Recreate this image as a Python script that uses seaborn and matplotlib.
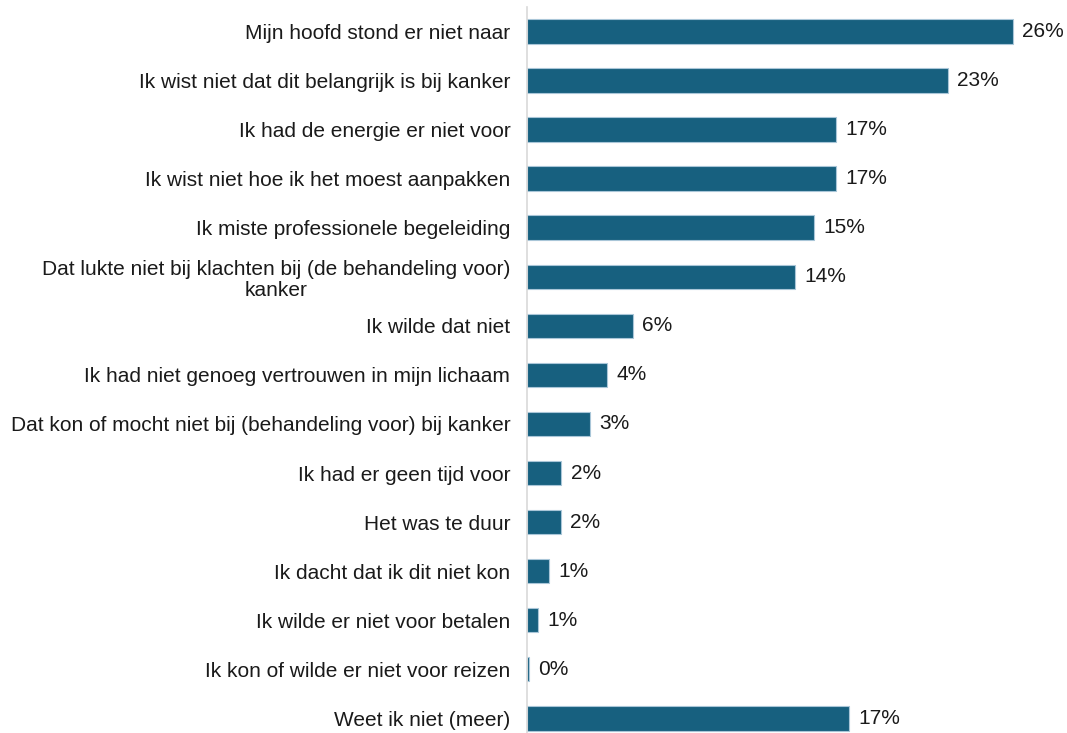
import matplotlib
matplotlib.use("Agg")
import matplotlib.pyplot as plt
import seaborn as sns
import pandas as pd

categories = [
    "Mijn hoofd stond er niet naar",
    "Ik wist niet dat dit belangrijk is bij kanker",
    "Ik had de energie er niet voor",
    "Ik wist niet hoe ik het moest aanpakken",
    "Ik miste professionele begeleiding",
    "Dat lukte niet bij klachten bij (de behandeling voor)\nkanker",
    "Ik wilde dat niet",
    "Ik had niet genoeg vertrouwen in mijn lichaam",
    "Dat kon of mocht niet bij (behandeling voor) bij kanker",
    "Ik had er geen tijd voor",
    "Het was te duur",
    "Ik dacht dat ik dit niet kon",
    "Ik wilde er niet voor betalen",
    "Ik kon of wilde er niet voor reizen",
    "Weet ik niet (meer)",
]
percentages = [26.1, 22.6, 16.6, 16.6, 15.4, 14.4, 5.7, 4.3, 3.4, 1.85, 1.8, 1.2, 0.6, 0.1, 17.3]

df = pd.DataFrame({"reden": categories, "pct": percentages})

sns.set_theme(style="white")
plt.rcParams["font.family"] = ["Liberation Sans", "DejaVu Sans"]

fig = plt.figure(figsize=(10.67, 7.33), dpi=100)
ax = fig.add_axes([527 / 1067, 0.0, 1 - 527 / 1067, 1 - 7 / 733])

sns.barplot(data=df, x="pct", y="reden", orient="h", color="#17607f",
            saturation=1, width=0.5, edgecolor="#a9c6d8", linewidth=0.8, ax=ax)

for i, v in enumerate(percentages):
    ax.text(v + 0.5, i, f"{v:.0f}%", va="center", ha="left", fontsize=15, color="#1a1a1a")

ax.set_xlim(0, 29)
ax.set_ylim(14.3, -0.5)
ax.set_xlabel("")
ax.set_ylabel("")
ax.set_xticks([])
ax.tick_params(axis="y", length=0, pad=12, labelsize=15, labelcolor="#1a1a1a")
for lbl in ax.get_yticklabels():
    lbl.set_multialignment("center")
    lbl.set_linespacing(1.15)
for side in ["top", "right", "bottom"]:
    ax.spines[side].set_visible(False)
ax.spines["left"].set_color("#d9d9d9")
ax.spines["left"].set_linewidth(1.2)

fig.savefig("out.png", dpi=100)
